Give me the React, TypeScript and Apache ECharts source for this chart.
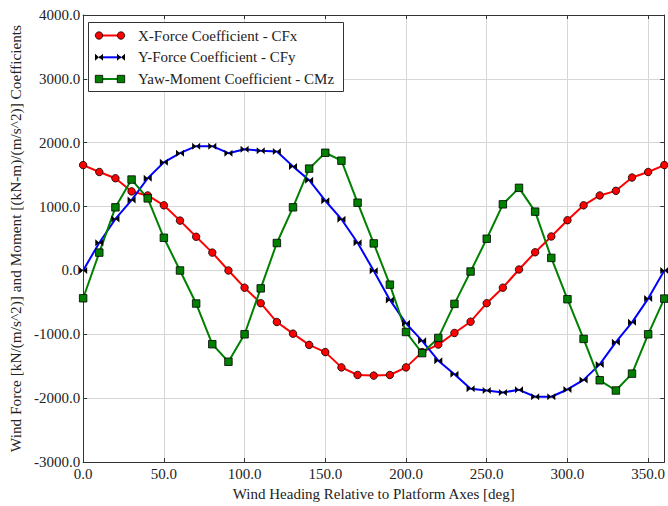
import React, { useEffect, useRef } from "react";
import * as echarts from "echarts";

const headings = [0, 10, 20, 30, 40, 50, 60, 70, 80, 90, 100, 110, 120, 130, 140, 150, 160, 170, 180,
  190, 200, 210, 220, 230, 240, 250, 260, 270, 280, 290, 300, 310, 320, 330, 340, 350, 360];

const cfx = [1650, 1542, 1444, 1238, 1175, 1020, 781, 528, 280, 0, -269, -512, -807, -989, -1165, -1278, -1517, -1636, -1646,
  -1636, -1517, -1278, -1160, -978, -802, -512, -269, 16, 285, 533, 787, 1020, 1175, 1247, 1455, 1542, 1650];

const cfy = [0, 435, 807, 1102, 1444, 1693, 1837, 1946, 1946, 1837, 1899, 1874, 1863, 1630, 1413, 1092, 803, 435, -5,
  -461, -828, -1102, -1413, -1625, -1853, -1879, -1910, -1868, -1977, -1977, -1863, -1713, -1470, -1123, -812, -440, 0];

const cmz = [-435, 280, 989, 1424, 1129, 512, 0, -517, -1154, -1429, -999, -280, 430, 989, 1595, 1843, 1719, 1061, 424,
  -222, -963, -1294, -1056, -523, -16, 497, 1036, 1294, 921, 197, -450, -1071, -1719, -1879, -1615, -999, -440];

const seriesNames = ["X-Force Coefficient - CFx", "Y-Force Coefficient - CFy", "Yaw-Moment Coefficient - CMz"];
const xAxisName = "Wind Heading Relative to Platform Axes [deg]";
const yAxisName = "Wind Force [kN/(m/s^2)] and Moment [(kN-m)/(m/s^2)] Coefficients";
const xRange = [0, 360];
const xStep = 50;
const yRange = [-3000, 4000];
const yStep = 1000;

const FONT = "Liberation Serif";
const BOWTIE = "path://M0,0L10,10L10,0L0,10Z";

export default function App() {
  const ref = useRef<HTMLDivElement>(null);
  useEffect(() => {
    if (!ref.current) return;
    const chart = echarts.init(ref.current, undefined, { renderer: "svg" });
    const fmt = (v: number) => v.toFixed(1);
    const axisLine = { show: true, onZero: false, lineStyle: { color: "#333", width: 1 } };
    const tick = { show: true, inside: true, length: 4, lineStyle: { color: "#333" } };
    const splitLine = { show: true, lineStyle: { color: "#d6d6d6", width: 1 } };
    const mk = (data: number[]) => headings.map((h, k) => [h, data[k]]);

    const lx0 = 97, lx1 = 122, ltx = 138;
    const ly = [35.5, 57.3, 79];
    const legendGraphics: any[] = [
      { type: "rect", shape: { x: 88.5, y: 22.5, width: 255, height: 69 }, style: { fill: "#fff", stroke: "#333", lineWidth: 1 }, z: 100 },
    ];
    const colors = ["#ff0000", "#0000ff", "#008000"];
    ly.forEach((y, i) => {
      legendGraphics.push({ type: "line", shape: { x1: lx0 + 2, y1: y, x2: lx1 - 1, y2: y }, style: { stroke: colors[i], lineWidth: 2 }, z: 101 });
      [lx0 + 2, lx1 - 1].forEach((cx) => {
        if (i === 0) {
          legendGraphics.push({ type: "circle", shape: { cx, cy: y, r: 3.7 }, style: { fill: "#ff0000", stroke: "#000", lineWidth: 0.8 }, z: 102 });
        } else if (i === 1) {
          legendGraphics.push({ type: "polygon", shape: { points: [[cx - 4, y - 3.5], [cx + 4, y + 3.5], [cx + 4, y - 3.5], [cx - 4, y + 3.5]] }, style: { fill: "#000" }, z: 102 });
        } else {
          legendGraphics.push({ type: "rect", shape: { x: cx - 3.7, y: y - 3.7, width: 7.4, height: 7.4 }, style: { fill: "#008000", stroke: "#000", lineWidth: 0.8 }, z: 102 });
        }
      });
      legendGraphics.push({ type: "text", x: ltx, y, style: { text: seriesNames[i], fontSize: 15, fontFamily: FONT, fill: "#222", verticalAlign: "middle", align: "left" }, z: 102 });
    });

    chart.setOption({
      animation: false,
      backgroundColor: "#fff",
      textStyle: { fontFamily: FONT },
      grid: { left: 82, right: 3, top: 15, bottom: 39.5 },
      xAxis: [
        {
          type: "value", position: "bottom", min: xRange[0], max: xRange[1], interval: xStep,
          axisLine, axisTick: tick, splitLine,
          axisLabel: { formatter: fmt, color: "#222", fontSize: 15, fontFamily: FONT, margin: 4, showMaxLabel: false },
          name: xAxisName, nameLocation: "middle", nameGap: 22,
          nameTextStyle: { color: "#222", fontSize: 15, fontFamily: FONT },
        },
        {
          type: "value", position: "top", min: xRange[0], max: xRange[1], interval: xStep,
          axisLine, axisTick: tick, splitLine: { show: false }, axisLabel: { show: false },
        },
      ],
      yAxis: [
        {
          type: "value", position: "left", min: yRange[0], max: yRange[1], interval: yStep,
          axisLine, axisTick: tick, splitLine,
          axisLabel: { formatter: fmt, color: "#222", fontSize: 15, fontFamily: FONT, margin: 3 },
          name: yAxisName, nameLocation: "middle", nameGap: 57,
          nameTextStyle: { color: "#222", fontSize: 15.3, fontFamily: FONT },
        },
        {
          type: "value", position: "right", min: yRange[0], max: yRange[1], interval: yStep,
          axisLine, axisTick: tick, splitLine: { show: false }, axisLabel: { show: false },
        },
      ],
      series: [
        {
          name: seriesNames[0], type: "line", data: mk(cfx), symbol: "circle", symbolSize: 7.5,
          lineStyle: { color: "#ff0000", width: 2 }, itemStyle: { color: "#ff0000", borderColor: "#000", borderWidth: 0.8 },
        },
        {
          name: seriesNames[1], type: "line", data: mk(cfy), symbol: BOWTIE, symbolSize: [8, 7],
          lineStyle: { color: "#0000ff", width: 2 }, itemStyle: { color: "#000" },
        },
        {
          name: seriesNames[2], type: "line", data: mk(cmz), symbol: "rect", symbolSize: 7.5,
          lineStyle: { color: "#008000", width: 2 }, itemStyle: { color: "#008000", borderColor: "#000", borderWidth: 0.8 },
        },
      ],
      graphic: legendGraphics,
    });
    return () => chart.dispose();
  }, []);
  return <div ref={ref} style={{ position: "absolute", left: 0, top: 0, width: 668, height: 506 }} />;
}
